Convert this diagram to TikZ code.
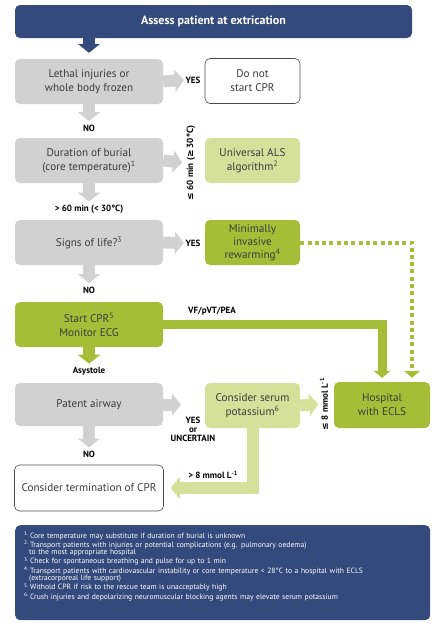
\documentclass[tikz,border=0pt]{standalone}
\usepackage{fontspec}
\setmainfont{PT Sans}
\newfontfamily\symfont{DejaVu Sans}
\usepackage{tikz}
\usetikzlibrary{arrows.meta}
\definecolor{navyblue}{RGB}{52,74,124}
\definecolor{boxgray}{RGB}{209,209,209}
\definecolor{palegreen}{RGB}{213,224,155}
\definecolor{olivegreen}{RGB}{166,190,55}
\definecolor{boxtext}{RGB}{60,60,60}

\begin{document}
\begin{tikzpicture}[x=1pt, y=-1pt, every node/.style={font=\fontsize{11.2}{14}\selectfont},
    box/.style={rounded corners=5pt, minimum width=148pt, minimum height=45pt, align=center, text=boxtext, inner sep=2pt},
    sidebox/.style={box, minimum width=95pt},
    lab/.style={font=\bfseries\fontsize{9}{9.5}\selectfont, inner sep=1.5pt, align=center},
    fat/.style={line width=12pt, -{Triangle[length=9pt,width=22pt]}},
    slim/.style={line width=9pt, -{Triangle[length=7pt,width=17pt]}},
    dotline/.style={line width=4pt, dash pattern=on 4pt off 3.3pt, -{Triangle[length=7pt,width=16pt]}}]
    \useasboundingbox (0,0) rectangle (443,627);
    % grid: left column centre x=89, side column x=252.5, hospital x=382
    \node[box, fill=navyblue, text=white, font=\bfseries\fontsize{12}{14}\selectfont, minimum width=397pt, minimum height=33pt] (assess) at (213.5,21.5) {Assess patient at extrication};
    % Row 1: lethal injuries
    \node[box, fill=boxgray] (lethal) at (89,81.5) {Lethal injuries or\\whole body frozen};
    \node[lab] (yes1) at (193,80) {YES};
    \node[sidebox, fill=white, draw=black!70, line width=0.6pt] (donot) at (252.5,81) {Do not\\start CPR};
    \node[lab] (no1) at (89,128) {NO};
    % Row 2: burial time
    \node[box, fill=boxgray] (burial) at (89,160.5) {Duration of burial\\(core temperature)\textsuperscript{1}};
    \node[lab, rotate=90] (le60) at (191,163) {{\symfont ≤} 60 min ({\symfont ≥} 30°C)};
    \node[sidebox, fill=palegreen] (als) at (252.5,160.5) {Universal ALS\\algorithm\textsuperscript{2}};
    \node[lab] (gt60) at (89,209.5) {> 60 min (< 30°C)};
    % Row 3: signs of life
    \node[box, fill=boxgray] (signs) at (89,242.5) {Signs of life?\textsuperscript{3}};
    \node[lab] (yes3) at (193,243) {YES};
    \node[sidebox, fill=olivegreen, font=\fontsize{11.2}{13}\selectfont] (rewarm) at (252.5,242.5) {Minimally\\invasive\\rewarming\textsuperscript{4}};
    \node[lab] (no3) at (89,290) {NO};
    % Row 4: CPR
    \node[box, fill=olivegreen] (cpr) at (89,324.5) {Start CPR\textsuperscript{5}\\Monitor ECG};
    \node[lab] (vf) at (212,311) {VF/pVT/PEA};
    \node[lab] (asys) at (89,371.5) {Asystole};
    % Row 5: airway and potassium
    \node[box, fill=boxgray, minimum height=43pt] (airway) at (89,404.5) {Patent airway};
    \node[lab, font=\bfseries\fontsize{9}{9.3}\selectfont] (yesunc) at (193,429.5) {YES\\or\\UNCERTAIN};
    \coordinate (airtip) at (181,404.5);
    \node[sidebox, fill=palegreen] (potass) at (252.5,405.5) {Consider serum\\potassium\textsuperscript{6}};
    \node[lab, rotate=90] (le8) at (324,404) {{\symfont ≤} 8 mmol L\textsuperscript{-1}};
    \node[sidebox, fill=olivegreen, minimum width=96pt, minimum height=46pt] (hosp) at (382,405) {Hospital\\with ECLS};
    \coordinate (hospin) at ([xshift=30pt]hosp.north);
    \node[lab] (no5) at (89,454.5) {NO};
    \node[lab] (gt8) at (213,475) {> 8 mmol L\textsuperscript{-1}};
    % Row 6: termination
    \node[box, fill=white, draw=black!70, line width=0.6pt, minimum width=149pt, minimum height=46pt] (term) at (89,488) {Consider termination of CPR};
    % connectors
    \draw[fat, navyblue, shorten >=6pt] (assess.south -| lethal.north) -- (lethal.north);
    \draw[fat, boxgray] (lethal.east) -- (yes1.west);
    \draw[fat, boxgray, shorten >=2pt] (lethal.south) -- (no1.north);
    \draw[fat, boxgray, shorten >=3pt] (burial.east) -- (le60.north);
    \draw[fat, boxgray, shorten >=2pt] (burial.south) -- (gt60.north);
    \draw[fat, boxgray] (signs.east) -- (yes3.west);
    \draw[fat, boxgray, shorten >=2pt] (signs.south) -- (no3.north);
    \draw[dotline, olivegreen, shorten >=4pt] (rewarm.east) -| (hospin);
    \draw[slim, olivegreen, shorten >=4pt] (cpr.east) -| (hosp.north);
    \draw[fat, olivegreen, shorten >=2pt] (cpr.south) -- (asys.north);
    \draw[fat, boxgray] (airway.east) -- (airtip);
    \draw[fat, boxgray, shorten >=2pt] (airway.south) -- (no5.north);
    \draw[fat, palegreen] (potass.east) -- (le8.north);
    \draw[fat, palegreen, shorten >=7pt] (potass.south) |- (term.east);
    % footnotes
    \newcommand{\fnum}[1]{\textsuperscript{#1.}\,}
    \node[box, fill=navyblue, text=white, anchor=north west, minimum width=415pt, minimum height=95pt, text width=397pt, align=left, inner xsep=9pt, inner ysep=0pt, font=\fontsize{7.6}{7.5}\selectfont] (notes) at (15,525) {%
      \fnum{1}Core temperature may substitute if duration of burial is unknown\\
      \fnum{2}Transport patients with injuries or potential complications (e.g. pulmonary oedema)\\
      \hspace*{5pt}to the most appropriate hospital\\
      \fnum{3}Check for spontaneous breathing and pulse for up to 1 min\\
      \fnum{4}Transport patients with cardiovascular instability or core temperature < 28°C to a hospital with ECLS\\
      \hspace*{5pt}(extracorporeal life support)\\
      \fnum{5}Withold CPR if risk to the rescue team is unacceptably high\\
      \fnum{6}Crush injuries and depolarizing neuromuscular blocking agents may elevate serum potassium\par\vspace{13pt}};
  \end{tikzpicture}
\end{document}
